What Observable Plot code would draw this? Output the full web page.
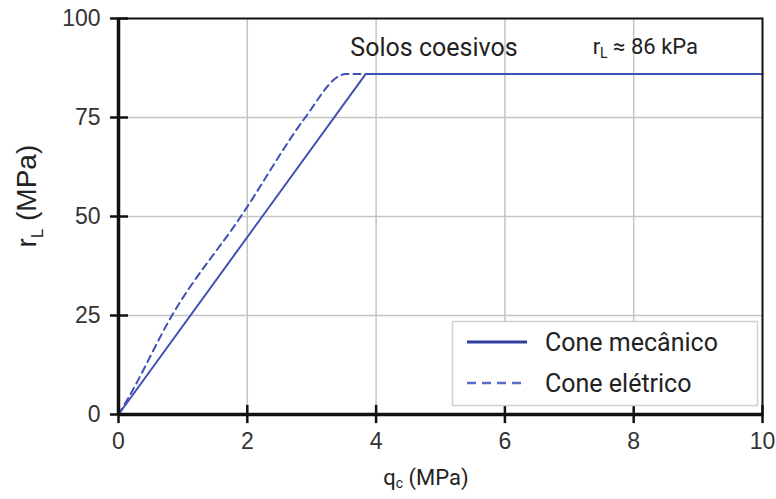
<!DOCTYPE html>
<html>
<head>
<meta charset="utf-8">
<script src="https://cdn.jsdelivr.net/npm/d3@7"></script>
<script src="https://cdn.jsdelivr.net/npm/@observablehq/plot@0.6"></script>
<style>
  html, body { margin: 0; padding: 0; background: #fff; }
  #chart { width: 776px; height: 499px; }
</style>
</head>
<body>
<div id="chart"></div>
<script>
// Data
const qcMecanico = [0, 3.84, 10];
const rlMecanico = [0, 86, 86];
const qcEletrico = [0, 0.16, 0.83, 1.9, 2.9, 3.42, 3.52, 3.84, 10];
const rlEletrico = [0, 4.4, 25, 50, 75, 85.4, 86, 86, 86];
const xTicks = [0, 2, 4, 6, 8, 10];
const yTicks = [0, 25, 50, 75, 100];
const seriesNames = ["Cone mecânico", "Cone elétrico"];
const annotationTitle = "Solos coesivos";

const mec = qcMecanico.map((x, i) => ({x, y: rlMecanico[i]}));
const ele = qcEletrico.map((x, i) => ({x, y: rlEletrico[i]}));

const blue = "#3f51b5";
const tickFont = "'Liberation Sans', Arial, sans-serif";
const textFont = "Roboto, 'Noto Sans', sans-serif";

const W = 776, H = 499, ML = 118, MR = 14, MT = 18, MB = 85;

const plot = Plot.plot({
  width: W,
  height: H,
  marginLeft: ML,
  marginRight: MR,
  marginTop: MT,
  marginBottom: MB,
  x: {domain: [0, 10]},
  y: {domain: [0, 100]},
  style: {fontFamily: tickFont, fontSize: "23px", color: "#333", background: "white"},
  marks: [
    Plot.gridX(xTicks.slice(1, -1), {stroke: "#c4c4c4", strokeOpacity: 1, strokeWidth: 1.5}),
    Plot.gridY(yTicks.slice(1, -1), {stroke: "#c4c4c4", strokeOpacity: 1, strokeWidth: 1.5}),
    Plot.line(mec, {x: "x", y: "y", stroke: blue, strokeWidth: 2}),
    Plot.line(ele, {x: "x", y: "y", stroke: blue, strokeWidth: 2, strokeDasharray: "7,5", curve: "monotone-x"}),
    Plot.frame({stroke: "#111", strokeWidth: 2}),
    Plot.ruleX([0], {stroke: "#111", strokeWidth: 3.5}),
    Plot.ruleY([0], {stroke: "#111", strokeWidth: 3.5}),
    // ticks crossing the axis lines (inside and outside)
    Plot.ruleX(xTicks, {x: d => d, y1: -2.3, y2: 2.3, stroke: "#111", strokeWidth: 2.5, strokeOpacity: 1}),
    Plot.ruleY(yTicks, {y: d => d, x1: -0.125, x2: 0.155, stroke: "#111", strokeWidth: 2.5, strokeOpacity: 1}),
    // tick labels
    Plot.axisX({ticks: xTicks, tickSize: 0, tickPadding: 18, fill: "#333", label: null, fontSize: 23}),
    Plot.axisY({ticks: yTicks, tickSize: 0, tickPadding: 18, fill: "#333", label: null, fontSize: 23}),
    Plot.text([annotationTitle], {x: 3.6, y: 90.5, text: d => d, textAnchor: "start", lineAnchor: "bottom", fontFamily: textFont, fontSize: 25, fill: "#222"})
  ]
});

document.getElementById("chart").appendChild(plot);

const svg = d3.select(plot);
const xs = plot.scale("x"), ys = plot.scale("y");

// Annotation rL ≈ 86 kPa
const ann = svg.append("text")
  .attr("x", xs.apply(7.37)).attr("y", ys.apply(91))
  .attr("text-anchor", "start")
  .attr("font-family", textFont).attr("font-size", 22).attr("fill", "#222");
ann.append("tspan").text("r");
ann.append("tspan").attr("font-size", 14).attr("dy", 4).text("L");
ann.append("tspan").attr("dy", -4).text(" ≈ 86 kPa");

// Y axis label
const yl = svg.append("text")
  .attr("transform", `translate(36,${ys.apply(55)}) rotate(-90)`)
  .attr("text-anchor", "middle")
  .attr("font-family", tickFont).attr("font-size", 28).attr("fill", "#222");
yl.append("tspan").text("r");
yl.append("tspan").attr("font-size", 17).attr("dy", 7).text("L");
yl.append("tspan").attr("dy", -7).text(" (MPa)");

// X axis label
const xl = svg.append("text")
  .attr("x", 426).attr("y", 485)
  .attr("text-anchor", "middle")
  .attr("font-family", textFont).attr("font-size", 22).attr("fill", "#222");
xl.append("tspan").text("q");
xl.append("tspan").attr("font-size", 14).attr("dy", 3).text("c");
xl.append("tspan").attr("dy", -3).text(" (MPa)");

// Legend
const lg = svg.append("g");
lg.append("rect").attr("x", 452.5).attr("y", 321.5).attr("width", 305).attr("height", 84)
  .attr("fill", "white").attr("stroke", "#d0d0d0").attr("stroke-width", 1.5);
const rows = [
  {name: seriesNames[0], dash: null, color: "#2f3f9f", width: 3, y: 342},
  {name: seriesNames[1], dash: "9,6", color: "#5a6cc8", width: 2.5, y: 383}
];
rows.forEach(r => {
  lg.append("line").attr("x1", 467).attr("x2", 527).attr("y1", r.y).attr("y2", r.y)
    .attr("stroke", r.color).attr("stroke-width", r.width).attr("stroke-dasharray", r.dash);
  lg.append("text").attr("x", 545).attr("y", r.y).attr("dy", "0.35em")
    .attr("text-anchor", "start")
    .attr("font-family", textFont).attr("font-size", 25).attr("fill", "#222").text(r.name);
});
</script>
</body>
</html>
